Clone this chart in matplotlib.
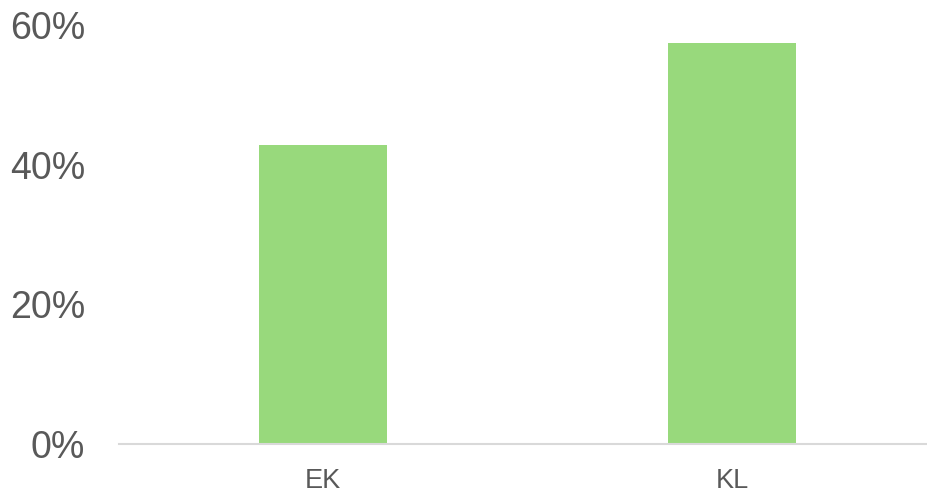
import matplotlib.pyplot as plt
from matplotlib.ticker import FuncFormatter

plt.rcParams['font.family'] = ['Liberation Sans', 'DejaVu Sans']

categories = ['EK', 'KL']
values = [42.9, 57.4]
yticks = [0, 20, 40, 60]

fig = plt.figure(figsize=(9.28, 4.94), dpi=100)
ax = fig.add_axes([0.1277, 0.101, 0.8815, 0.848])

ax.bar(range(len(categories)), values, width=0.313, color='#98D97C')

ax.set_xlim(-0.5, len(categories) - 0.5)
ax.set_ylim(0, 60)
ax.set_yticks(yticks)
ax.yaxis.set_major_formatter(FuncFormatter(lambda v, p: f'{v:.0f}%'))
ax.set_xticks(range(len(categories)))
ax.set_xticklabels(categories)

for s in ['top', 'right', 'left']:
    ax.spines[s].set_visible(False)
ax.spines['bottom'].set_color('#D9D9D9')
ax.spines['bottom'].set_linewidth(1.5)

ax.tick_params(axis='y', length=0, labelsize=27, labelcolor='#595959', pad=24)
ax.tick_params(axis='x', length=0, labelsize=19.5, labelcolor='#595959', pad=17)

fig.savefig('out.png', dpi=100)
